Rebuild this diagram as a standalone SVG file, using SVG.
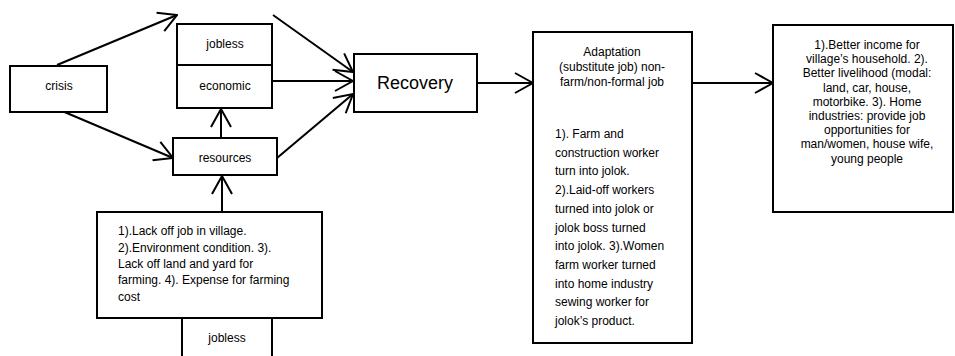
<svg xmlns="http://www.w3.org/2000/svg" width="955" height="356" viewBox="0 0 955 356">
<style>
.box{fill:#fff;stroke:#000;stroke-width:2}
.t{font-family:"Liberation Sans",Arial,sans-serif;font-size:12px;fill:#000}
.c{text-anchor:middle}
.big{font-size:18px}
.con{fill:none;stroke:#000;stroke-width:2}
</style>
<defs>
<marker id="ah" viewBox="0 0 20 22" refX="19" refY="11" markerWidth="20" markerHeight="22" markerUnits="userSpaceOnUse" orient="auto">
<path d="M1,1 L19,11 L1,21" fill="none" stroke="#000" stroke-width="2"/>
</marker>
</defs>
<rect width="955" height="356" fill="#fff"/>
<g id="connectors">
<line class="con" x1="57" y1="65" x2="177" y2="15" marker-end="url(#ah)"/>
<line class="con" x1="55" y1="108" x2="173" y2="158" marker-end="url(#ah)"/>
<line class="con" x1="273" y1="15" x2="353" y2="72" marker-end="url(#ah)"/>
<line class="con" x1="272" y1="81" x2="353" y2="81" marker-end="url(#ah)"/>
<line class="con" x1="277" y1="158" x2="353" y2="94" marker-end="url(#ah)"/>
<line class="con" x1="221" y1="138" x2="221" y2="109" marker-end="url(#ah)"/>
<line class="con" x1="222" y1="212" x2="222" y2="176" marker-end="url(#ah)"/>
<line class="con" x1="477" y1="83" x2="533" y2="83" marker-end="url(#ah)"/>
<line class="con" x1="692" y1="83" x2="773" y2="83" marker-end="url(#ah)"/>
</g>
<g id="crisis">
<rect class="box" x="10" y="66" width="97" height="46"/>
<text class="t c" x="59" y="90">crisis</text>
</g>
<g id="jobless-top">
<rect class="box" x="177" y="24" width="95" height="41"/>
<text class="t c" x="225" y="48">jobless</text>
</g>
<g id="economic">
<rect class="box" x="177" y="65" width="95" height="43"/>
<text class="t c" x="225" y="90">economic</text>
</g>
<g id="resources">
<rect class="box" x="173" y="138" width="104" height="37"/>
<text class="t c" x="225" y="162">resources</text>
</g>
<g id="causes">
<rect class="box" x="97" y="212" width="225" height="106"/>
<text class="t" x="118" y="235">1).Lack off job in village.</text>
<text class="t" x="118" y="252">2).Environment condition. 3).</text>
<text class="t" x="118" y="268">Lack off land and yard for</text>
<text class="t" x="118" y="284">farming. 4). Expense for farming</text>
<text class="t" x="118" y="301">cost</text>
</g>
<g id="jobless-bottom">
<rect class="box" x="182" y="318" width="90" height="50"/>
<text class="t c" x="227" y="342">jobless</text>
</g>
<g id="recovery">
<rect class="box" x="354" y="54" width="123" height="58"/>
<text class="t c big" x="415" y="89">Recovery</text>
</g>
<g id="adaptation">
<rect class="box" x="533" y="32" width="159" height="311"/>
<text class="t c" x="612" y="56">Adaptation</text>
<text class="t c" x="612" y="71">(substitute job) non-</text>
<text class="t c" x="612" y="86">farm/non-formal job</text>
<text class="t" x="555" y="138">1). Farm and</text>
<text class="t" x="555" y="156.7">construction worker</text>
<text class="t" x="555" y="175.4">turn into jolok.</text>
<text class="t" x="555" y="194.1">2).Laid-off workers</text>
<text class="t" x="555" y="212.8">turned into jolok or</text>
<text class="t" x="555" y="231.5">jolok boss turned</text>
<text class="t" x="555" y="250.2">into jolok. 3).Women</text>
<text class="t" x="555" y="268.9">farm worker turned</text>
<text class="t" x="555" y="287.6">into home industry</text>
<text class="t" x="555" y="306.3">sewing worker for</text>
<text class="t" x="555" y="325">jolok’s product.</text>
</g>
<g id="outcomes">
<rect class="box" x="773" y="25" width="180" height="187"/>
<text class="t c" x="867" y="49">1).Better income for</text>
<text class="t c" x="867" y="63.2">village’s household. 2).</text>
<text class="t c" x="867" y="77.4">Better livelihood (modal:</text>
<text class="t c" x="867" y="91.6">land, car, house,</text>
<text class="t c" x="867" y="105.8">motorbike. 3). Home</text>
<text class="t c" x="867" y="120">industries: provide job</text>
<text class="t c" x="867" y="134.2">opportunities for</text>
<text class="t c" x="867" y="148.4">man/women, house wife,</text>
<text class="t c" x="867" y="162.6">young people</text>
</g>
</svg>
